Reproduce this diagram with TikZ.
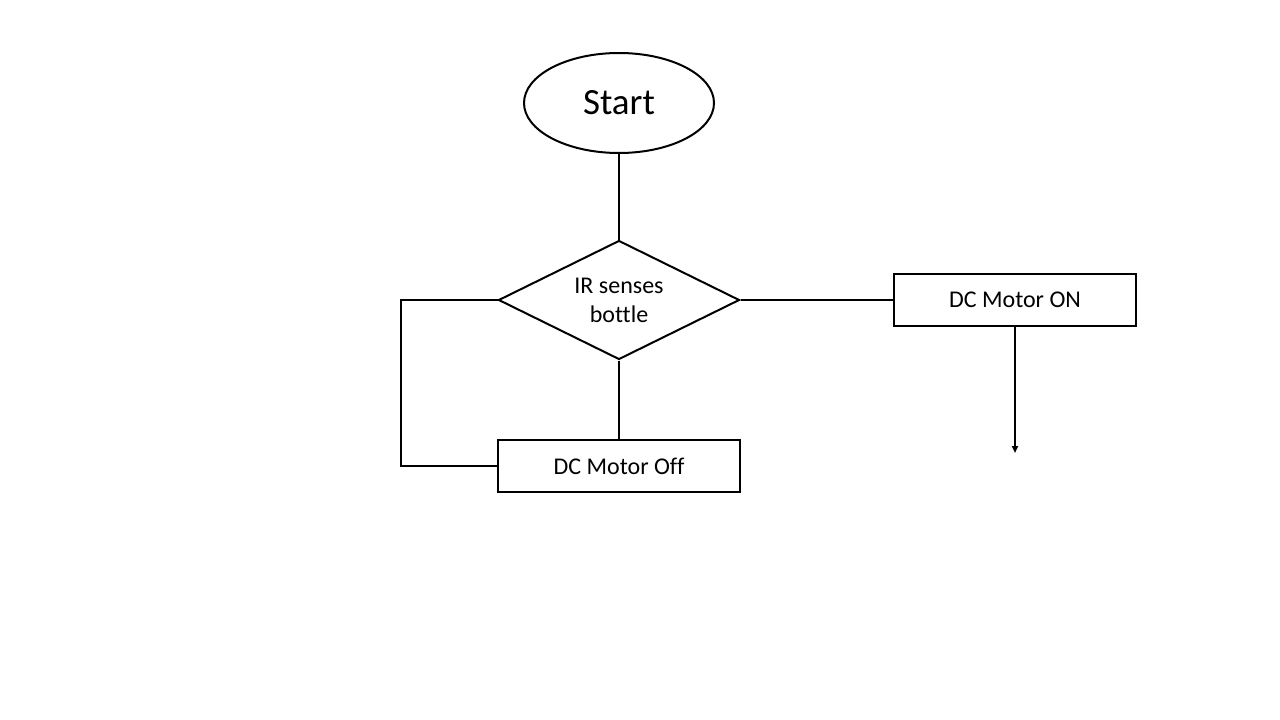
\documentclass[tikz,border=0pt]{standalone}
\usepackage{fontspec}
\setmainfont{Carlito}[Ligatures=CommonOff]
\usetikzlibrary{shapes.geometric,arrows.meta}
\begin{document}
\begin{tikzpicture}[x=1pt,y=1pt,yscale=-1,xscale=1,
    flowline/.style={line width=2pt},
    procbox/.style={draw,line width=2pt,minimum width=242pt,minimum height=52pt,inner sep=0pt,font=\fontsize{24}{28}\selectfont},
    ]
    \useasboundingbox (0,0) rectangle (1280,720);
    % Start Node
    \node [ellipse,draw,line width=2pt,minimum width=190pt,minimum height=100pt,inner sep=0pt,font=\fontsize{37}{42}\selectfont] (start) at (619,103) {Start};
    % Decision Node
    \node [diamond,draw,line width=2pt,minimum width=241pt,minimum height=119pt,inner sep=0pt,aspect=2,align=center,font=\fontsize{24}{29}\selectfont] (sense) at (619,300) {IR senses\\bottle};
    % Box Nodes
    \node [procbox] (off) at (619,466) {DC Motor Off};
    \node [procbox] (on) at (1015,300) {DC Motor ON};
    \coordinate (loop) at (401,466);
    \coordinate (onend) at (1015,453);

    %Straight Lines
    \draw [flowline] (start) -- (sense);
    \draw [flowline] (sense) -- (off);
    \draw [flowline] (sense) -- (on);
    \draw [flowline] (off) -- (loop) |- (sense);
    \draw [flowline,-{Triangle[width=6pt,length=7pt]}] (on) -- (onend);
\end{tikzpicture}
\end{document}
